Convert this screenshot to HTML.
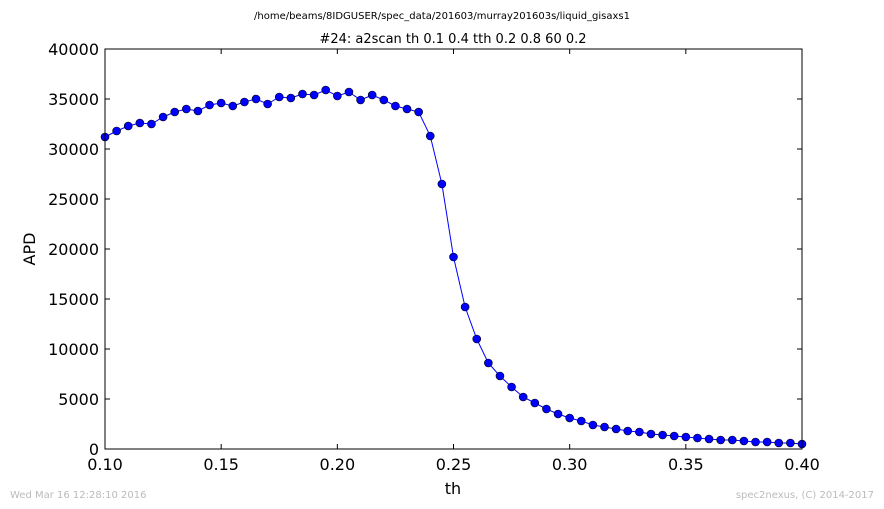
<!DOCTYPE html>
<html><head><meta charset="utf-8"><style>
body{margin:0;background:#fff;}
svg{display:block;font-family:"DejaVu Sans","Liberation Sans",sans-serif;}
</style></head><body>
<svg id="chart" width="884" height="509">
<text x="442" y="19" font-size="10" text-anchor="middle">/home/beams/8IDGUSER/spec_data/201603/murray201603s/liquid_gisaxs1</text>
<text x="453" y="43" font-size="13" text-anchor="middle">#24: a2scan  th 0.1 0.4  tth 0.2 0.8  60 0.2</text>
<text x="453" y="494" font-size="16" text-anchor="middle">th</text>
<text transform="translate(35,249) rotate(-90)" font-size="16" text-anchor="middle">APD</text>
<text x="10" y="498" font-size="10" fill="#bbb">Wed Mar 16 12:28:10 2016</text>
<text x="874" y="498" font-size="10" fill="#bbb" text-anchor="end">spec2nexus, (C) 2014-2017</text>
<g id="ticks"></g>
<polyline id="line" fill="none" stroke="#0000ff" stroke-width="1"></polyline>
<g id="pts"></g>
<rect x="105" y="49" width="697" height="400" fill="none" stroke="#000" stroke-width="1"/>
</svg>
<script>
const xTicks=[0.10,0.15,0.20,0.25,0.30,0.35,0.40];
const xTickLabels=["0.10","0.15","0.20","0.25","0.30","0.35","0.40"];
const yTicks=[0,5000,10000,15000,20000,25000,30000,35000,40000];
const thStart=0.1, thStep=0.005;
const apd=[31200,31800,32300,32600,32500,33200,33700,34000,33800,34400,34600,34300,34700,35000,34500,35200,35100,35500,35400,35900,35300,35700,34900,35400,34900,34300,34000,33700,31300,26500,19200,14200,11000,8600,7300,6200,5200,4600,4000,3500,3100,2800,2400,2200,2000,1800,1700,1500,1400,1300,1200,1100,1000,900,900,800,700,700,600,600,500];
const NS="http://www.w3.org/2000/svg";
const X0=105,X1=802,Y0=449,Y1=49;
const sx=v=>X0+(v-0.1)/0.3*(X1-X0);
const sy=v=>Y0-v/40000*(Y0-Y1);
const tg=document.getElementById('ticks');
function mk(t,a,p){const e=document.createElementNS(NS,t);for(const k in a)e.setAttribute(k,a[k]);p.appendChild(e);return e;}
xTicks.forEach((v,i)=>{const x=sx(v);
 const t1=mk('line',{x1:x,x2:x,y1:Y0,y2:Y0-5,stroke:'#000'},tg);
 
 
 mk('line',{x1:x,x2:x,y1:Y1,y2:Y1+5,stroke:'#000'},tg);
 const l=mk('text',{x:x,y:Y0+21,'font-size':16,'text-anchor':'middle'},tg);l.textContent=xTickLabels[i];
 
 });
yTicks.forEach(v=>{const y=sy(v);
 mk('line',{x1:X0,x2:X0+5,y1:y,y2:y,stroke:'#000'},tg);
 mk('line',{x1:X1,x2:X1-5,y1:y,y2:y,stroke:'#000'},tg);
 const l=mk('text',{x:X0-6,y:y+6,'font-size':16,'text-anchor':'end'},tg);l.textContent=v;
 
 });
const pts=apd.map((v,i)=>[sx(thStart+i*thStep),sy(v)]);
document.getElementById('line').setAttribute('points',pts.map(p=>p.join(',')).join(' '));
const pg=document.getElementById('pts');
pts.forEach(p=>{const c=mk('circle',{cx:p[0],cy:p[1],r:4,fill:'#0000ff',stroke:'#000','stroke-width':0.6},pg);
 
 });
</script>
</body></html>
